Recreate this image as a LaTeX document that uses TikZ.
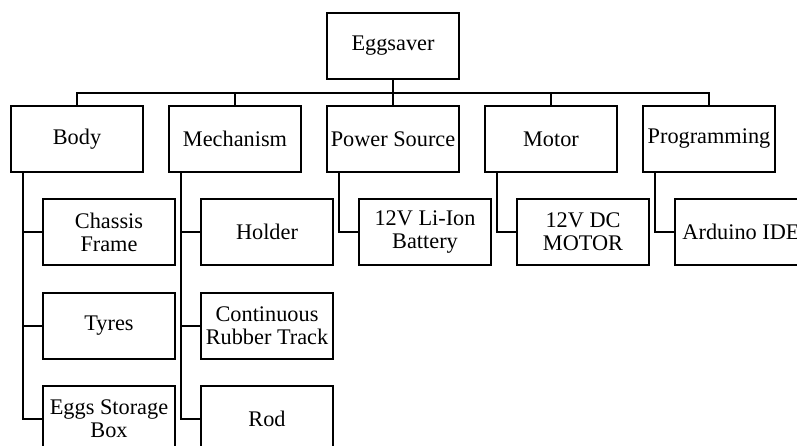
\documentclass[tikz,border=0pt]{standalone}
\usepackage{fontspec}
\setmainfont{Liberation Serif}
\begin{document}
\begin{tikzpicture}[x=1pt,y=-1pt,
  box/.style={draw, line width=1.8pt, minimum width=132pt, minimum height=66pt, inner sep=0pt, align=center, font=\fontsize{22.3pt}{23pt}\selectfont},
  link/.style={line width=1.8pt}]
\useasboundingbox (0,0) rectangle (797,446);
\clip (0,0) rectangle (797,446);
\fill[white] (0,0) rectangle (797,446);
\node[box] (egg) at (393,46) {Eggsaver};
\node[box] (body) at (77,139) {Body};
\node[box] (mech) at (235,139) {Mechanism};
\node[box] (pow) at (393,139) {Power Source};
\node[box] (mot) at (551,139) {Motor};
\node[box] (prog) at (709,139) {Programming};
\node[box] (chassis) at (109,232) {Chassis\\Frame};
\node[box] (tyres) at (109,326) {Tyres};
\node[box] (eggbox) at (109,419) {Eggs Storage\\Box};
\node[box] (holder) at (267,232) {Holder};
\node[box] (track) at (267,326) {Continuous\\Rubber Track};
\node[box] (rod) at (267,419) {Rod};
\node[box] (bat) at (425,232) {12V Li-Ion\\Battery};
\node[box] (dc) at (583,232) {12V DC\\MOTOR};
\node[box] (ide) at (741,232) {Arduino IDE};
\coordinate (bus) at (393,93);
\draw[link] (egg.south) -- (bus);
\foreach \n in {body,mech,pow,mot,prog}
  \draw[link] (\n.north) |- (bus);
\foreach \p/\c in {body/chassis,body/tyres,body/eggbox,mech/holder,mech/track,mech/rod,pow/bat,mot/dc,prog/ide}
  \draw[link] ([xshift=13pt]\p.south west) |- (\c.west);
\end{tikzpicture}
\end{document}
